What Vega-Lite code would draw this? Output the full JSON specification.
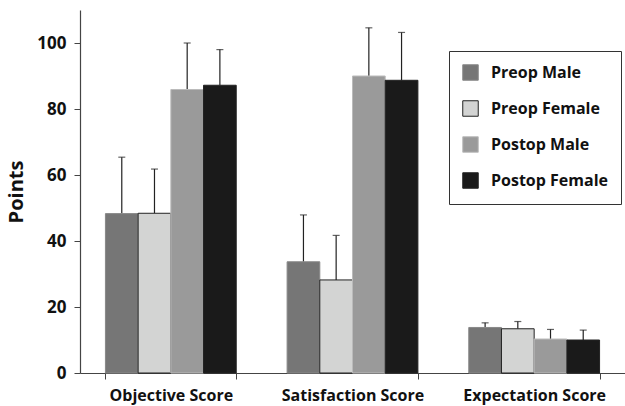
{
  "$schema": "https://vega.github.io/schema/vega-lite/v6.json",
  "width": 545,
  "height": 363,
  "autosize": {"type": "none"},
  "padding": {"left": 80, "top": 10, "right": 0, "bottom": 33},
  "background": "white",
  "config": {
    "font": "Open Sans",
    "view": {"stroke": null}
  },
  "data": {
    "values": [
      {"score": "Objective Score", "group": "Preop Male", "mean": 48.3, "upper": 65.4},
      {"score": "Objective Score", "group": "Preop Female", "mean": 48.4, "upper": 61.8},
      {"score": "Objective Score", "group": "Postop Male", "mean": 85.9, "upper": 100},
      {"score": "Objective Score", "group": "Postop Female", "mean": 87.2, "upper": 98},
      {"score": "Satisfaction Score", "group": "Preop Male", "mean": 33.7, "upper": 47.9},
      {"score": "Satisfaction Score", "group": "Preop Female", "mean": 28.2, "upper": 41.7},
      {"score": "Satisfaction Score", "group": "Postop Male", "mean": 90.0, "upper": 104.6},
      {"score": "Satisfaction Score", "group": "Postop Female", "mean": 88.7, "upper": 103.2},
      {"score": "Expectation Score", "group": "Preop Male", "mean": 13.8, "upper": 15.2},
      {"score": "Expectation Score", "group": "Preop Female", "mean": 13.4, "upper": 15.6},
      {"score": "Expectation Score", "group": "Postop Male", "mean": 10.3, "upper": 13.2},
      {"score": "Expectation Score", "group": "Postop Female", "mean": 10.0, "upper": 13.0}
    ]
  },
  "encoding": {
    "x": {
      "field": "score", "type": "nominal",
      "sort": ["Objective Score", "Satisfaction Score", "Expectation Score"],
      "scale": {"paddingInner": 0.28, "paddingOuter": 0.14},
      "axis": {
        "title": null, "labelAngle": 0, "tickBand": "extent",
        "labelFont": "Open Sans", "labelFontWeight": "bold", "labelFontSize": 16, "labelColor": "#111",
        "labelPadding": 8, "tickSize": 6, "tickColor": "#444", "domainColor": "#444", "domainWidth": 1.2
      }
    },
    "xOffset": {
      "field": "group", "type": "nominal",
      "sort": ["Preop Male", "Preop Female", "Postop Male", "Postop Female"]
    }
  },
  "layer": [
    {
      "mark": {"type": "rule", "color": "#222", "strokeWidth": 1.2},
      "encoding": {
        "y": {"field": "mean", "type": "quantitative"},
        "y2": {"field": "upper"}
      }
    },
    {
      "mark": {"type": "tick", "orient": "horizontal", "color": "#222", "size": 7, "thickness": 1.2},
      "encoding": {
        "y": {"field": "upper", "type": "quantitative"}
      }
    },
    {
      "mark": {"type": "bar", "strokeWidth": 1},
      "encoding": {
        "y": {
          "field": "mean", "type": "quantitative",
          "scale": {"domain": [0, 110], "nice": false},
          "axis": {
            "title": "Points", "values": [0, 20, 40, 60, 80, 100], "grid": false,
            "titleFont": "Open Sans", "titleFontWeight": "bold", "titleFontSize": 20, "titleColor": "#111", "titlePadding": 10,
            "labelFont": "Open Sans", "labelFontWeight": "bold", "labelFontSize": 17, "labelColor": "#111",
            "labelPadding": 8, "tickSize": 6, "tickColor": "#444", "domainColor": "#444", "domainWidth": 1.2
          }
        },
        "fill": {
          "field": "group", "type": "nominal",
          "sort": ["Preop Male", "Preop Female", "Postop Male", "Postop Female"],
          "scale": {
            "domain": ["Preop Male", "Preop Female", "Postop Male", "Postop Female"],
            "range": ["#767676", "#d3d4d3", "#9a9a9a", "#1a1a1a"]
          },
          "legend": {
            "title": null, "orient": "none", "legendX": 369, "legendY": 41,
            "strokeColor": "#333", "padding": 13, "symbolType": "square", "symbolSize": 240,
            "symbolStrokeWidth": 1, "symbolStrokeColor": "#444",
            "labelFont": "Open Sans", "labelFontWeight": "bold", "labelFontSize": 16, "labelColor": "#111",
            "labelOffset": 12, "rowPadding": 15
          }
        },
        "stroke": {
          "field": "group", "type": "nominal",
          "scale": {
            "domain": ["Preop Male", "Preop Female", "Postop Male", "Postop Female"],
            "range": ["#888888", "#222222", "#bbbbbb", "#222222"]
          },
          "legend": null
        }
      }
    }
  ]
}
